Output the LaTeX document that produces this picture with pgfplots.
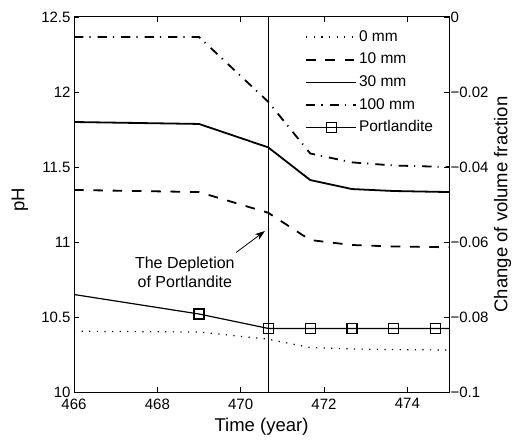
\documentclass[border=0pt]{standalone}
\usepackage{fontspec}
\setmainfont{Liberation Sans}
\usepackage{pgfplots}
\pgfplotsset{compat=1.18}
\usetikzlibrary{arrows.meta}

\begin{document}
\begin{tikzpicture}
\path[use as bounding box] (0,0) rectangle (518pt,440pt);
\begin{axis}[
  at={(74pt,48pt)}, anchor=south west,
  scale only axis, width=375pt, height=375pt,
  xmin=466, xmax=475, ymin=10, ymax=12.5,
  xtick={466,468,470,472,474}, xticklabels={466,468,470,472,474},
  ytick={10,10.5,11,11.5,12,12.5}, yticklabels={10,10.5,11,11.5,12,12.5},
  ytick pos=left, xtick pos=both,
  tick align=inside, major tick length=5pt,
  axis line style={line width=1pt},
  every tick/.style={black, line width=0.8pt},
  tick label style={font=\fontsize{15}{18}\selectfont},
  xticklabel style={yshift=-3pt},
  xlabel={Time (year)},
  xlabel style={at={(axis description cs:0.5,-0.0925)}, anchor=center, font=\fontsize{18.5}{22}\selectfont},
  ylabel={pH},
  ylabel style={at={(axis description cs:-0.144,0.512)}, anchor=center, font=\fontsize{18.5}{22}\selectfont},
  legend cell align=left,
  legend style={draw=none, fill=none, at={(axis description cs:0.616,0.971)}, anchor=north west,
    font=\fontsize{15.5}{18}\selectfont, inner sep=0pt, row sep=4.7pt,
    nodes={inner sep=2pt, text height=11pt, text depth=3pt}},
  legend image code/.code={\draw[#1, mark indices={2}] plot coordinates {(0pt,0pt) (25pt,0pt) (50pt,0pt)};},
]
\addplot[black, line width=1.2pt, dash pattern=on 1.2pt off 6.4pt] coordinates {
 (466,10.405) (469,10.40) (470.66,10.352) (471.67,10.296) (472.67,10.287) (473.67,10.283) (475,10.28)};
\addlegendentry{0 mm}
\addplot[black, line width=1.8pt, dash pattern=on 9.6pt off 9.7pt] coordinates {
 (466,11.347) (469,11.333) (470.66,11.195) (471.67,11.013) (472.67,10.98) (473.67,10.97) (475,10.965)};
\addlegendentry{10 mm}
\addplot[black, line width=1.8pt] coordinates {
 (466,11.80) (469,11.787) (470.66,11.631) (471.67,11.413) (472.67,11.353) (473.67,11.34) (475,11.333)};
\addlegendentry{30 mm}
\addplot[black, line width=1.8pt, dash pattern=on 9.3pt off 6pt on 1.2pt off 7pt] coordinates {
 (466,12.367) (469,12.367) (470.66,11.935) (471.67,11.59) (472.67,11.531) (473.67,11.51) (475,11.50)};
\addlegendentry{100 mm}
\addplot[black, line width=1.2pt, mark=square, mark size=5pt, mark options={solid, line width=1.2pt}, mark indices={2,3,4,5,6,7}] coordinates {
 (466,10.65) (469,10.52) (470.66,10.424) (471.67,10.424) (472.67,10.424) (473.67,10.424) (474.68,10.424) (475,10.424)};
\addlegendentry{Portlandite}
\addplot[black, line width=0.7pt, forget plot] coordinates {(470.66,10) (470.66,12.5)};
\node[align=center, font=\fontsize{16}{19}\selectfont] at (axis cs:468.66,10.80) {The Depletion\\of Portlandite};
\draw[-{Stealth[length=10pt,width=7pt]}, line width=0.8pt] (axis cs:469.89,10.93) -- (axis cs:470.58,11.073);
\end{axis}
\begin{axis}[
  at={(74pt,48pt)}, anchor=south west,
  scale only axis, width=375pt, height=375pt,
  xmin=466, xmax=475, ymin=-0.1, ymax=0,
  axis x line=none, axis y line*=right,
  ytick={-0.1,-0.08,-0.06,-0.04,-0.02,0},
  yticklabels={−0.1,−0.08,−0.06,−0.04,−0.02,0},
  tick align=inside, major tick length=5pt,
  axis line style={line width=1pt},
  every tick/.style={black, line width=0.8pt},
  tick label style={font=\fontsize{15}{18}\selectfont},
  yticklabel style={xshift=-2pt},
  ylabel={Change of volume fraction},
  ylabel style={at={(axis description cs:1.143,0.5)}, anchor=center, font=\fontsize{18.5}{22}\selectfont},
]
\end{axis}
\end{tikzpicture}
\end{document}
